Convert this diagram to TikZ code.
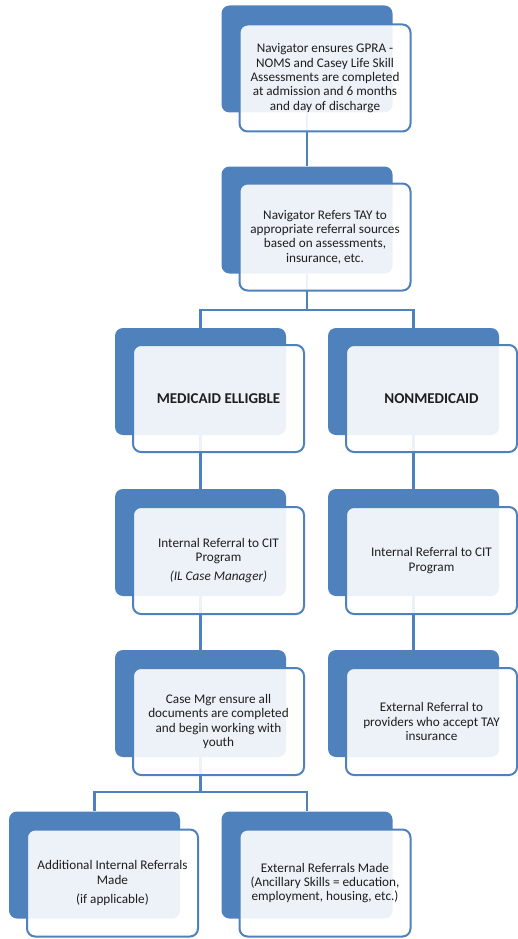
\documentclass[tikz,border=0pt]{standalone}
\usepackage{fontspec}
\setmainfont{Carlito}
\definecolor{sblue}{HTML}{4F81BD}
\definecolor{stext}{HTML}{1E1E1E}
\begin{document}
\begin{tikzpicture}[x=1pt,y=-1pt,
  back/.style={draw=none, fill=sblue, rounded corners=8pt, minimum width=171pt, minimum height=107pt, inner sep=0pt},
  front/.style={draw=sblue, line width=2pt, fill=white, fill opacity=0.9, text opacity=1, rounded corners=8pt, minimum width=171pt, minimum height=107pt, inner sep=2pt, align=center, font=\fontsize{13.2}{14.4}\selectfont, text=stext},
  bigtext/.style={font=\fontsize{15}{17}\selectfont\bfseries},
  conn/.style={draw=sblue, line width=2.5pt}]
\useasboundingbox (0,0) rectangle (517,939);
% back shapes
\node[back] (b1) at (307,59) {};
\node[back] (b2) at (307,220) {};
\node[back] (b3) at (200.5,381.5) {};
\node[back] (b4) at (413.5,381.5) {};
\node[back] (b5) at (200.5,542.5) {};
\node[back] (b6) at (413.5,542.5) {};
\node[back] (b7) at (200.5,703.5) {};
\node[back] (b8) at (413.5,703.5) {};
\node[back] (b9) at (94.5,865) {};
\node[back] (b10) at (307,865) {};
% connectors
\coordinate (j1) at (307,310);
\coordinate (j2) at (200.5,792);
\draw[conn] (b1.south) -- (b2.north);
\draw[conn] (b2.south) -- (j1);
\draw[conn] (b3.north) |- (j1) -| (b4.north);
\draw[conn] (b3.south) -- (b5.north);
\draw[conn] (b4.south) -- (b6.north);
\draw[conn] (b5.south) -- (b7.north);
\draw[conn] (b6.south) -- (b8.north);
\draw[conn] (b7.south) -- (j2);
\draw[conn] (b9.north) |- (j2) -| (b10.north);
% front shapes
\node[front] (f1) at (325,78) {Navigator ensures GPRA -\\NOMS and Casey Life Skill\\Assessments are completed\\at admission and 6 months\\and day of discharge};
\node[front] (f2) at (325,237) {Navigator Refers TAY to\\appropriate referral sources\\based on assessments,\\insurance, etc.};
\node[front,bigtext] (f3) at (218.5,398.5) {MEDICAID ELLIGBLE};
\node[front,bigtext] (f4) at (431.5,398.5) {NONMEDICAID};
\node[front] (f5) at (218.5,560.5) {Internal Referral to CIT\\Program\\[5pt]\textit{(IL Case Manager)}};
\node[front] (f6) at (431.5,560.5) {Internal Referral to CIT\\Program};
\node[front] (f7) at (218.5,721.5) {Case Mgr ensure all\\documents are completed\\and begin working with\\youth};
\node[front] (f8) at (431.5,721.5) {External Referral to\\providers who accept TAY\\insurance};
\node[front] (f9) at (112.5,883) {Additional Internal Referrals\\Made\\[5pt](if applicable)};
\node[front] (f10) at (325,883) {External Referrals Made\\(Ancillary Skills = education,\\employment, housing, etc.)};
\end{tikzpicture}
\end{document}
